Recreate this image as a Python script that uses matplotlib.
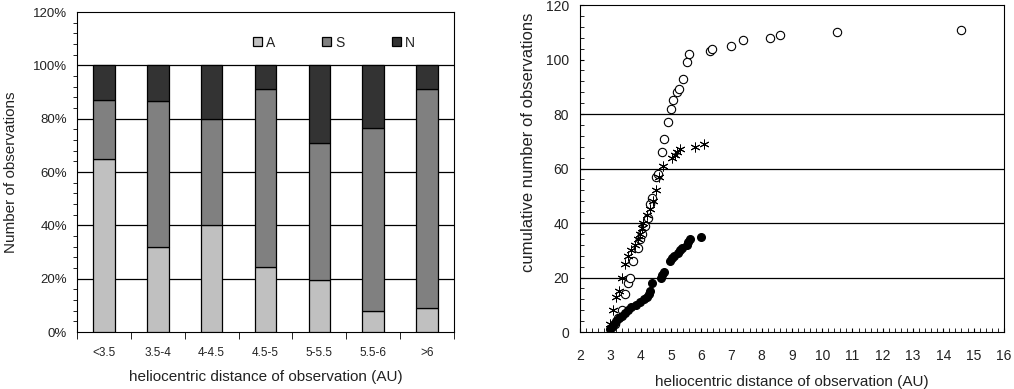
import matplotlib.pyplot as plt
import numpy as np
from matplotlib.ticker import MultipleLocator, FuncFormatter

plt.rcParams['font.family'] = ['Liberation Sans', 'DejaVu Sans']

# left panel: fraction of observations per distance bin (%)
bins = ["<3.5", "3.5-4", "4-4.5", "4.5-5", "5-5.5", "5.5-6", ">6"]
frac_A = [65, 32, 40, 24.5, 19.4, 8, 9]
frac_S = [22, 54.5, 40, 66.8, 51.6, 68.5, 82.3]
frac_N = [13, 13.5, 20, 8.7, 29, 23.5, 8.7]

# right panel: cumulative number of observations vs distance
open_x = [3.15, 3.26, 3.38, 3.49, 3.6, 3.65, 3.76, 3.93, 3.98, 4.04, 4.15, 4.26,
          4.31, 4.37, 4.52, 4.56, 4.7, 4.77, 4.92, 4.99, 5.08, 5.21, 5.26, 5.41,
          5.52, 5.6, 6.28, 6.37, 6.98, 7.39, 8.29, 8.6, 10.5, 14.6]
open_y = [3, 5, 8, 14, 18, 20, 26, 31, 34, 36, 39, 42,
          47, 49, 57, 58, 66, 71, 77, 82, 85, 88, 89, 93,
          99, 102, 103, 104, 105, 107, 108, 109, 110, 111]
star_x = [3.0, 3.1, 3.2, 3.28, 3.38, 3.5, 3.6, 3.7, 3.8, 3.92, 3.98, 4.04, 4.08,
          4.2, 4.3, 4.42, 4.52, 4.6, 4.75, 5.03, 5.14, 5.2, 5.3, 5.8, 6.1]
star_y = [3, 8, 13, 15, 20, 25, 28, 30, 32, 34, 36, 38, 40,
          43, 45, 48, 52, 57, 61, 64, 65, 66, 67, 68, 69]
fill_x = [2.99, 3.05, 3.12, 3.2, 3.3, 3.38, 3.5, 3.6, 3.7, 3.85, 3.98, 4.1, 4.2,
          4.28, 4.32, 4.38, 4.66, 4.7, 4.76, 4.97, 5.03, 5.1, 5.24, 5.3, 5.36,
          5.53, 5.57, 5.63, 5.99]
fill_y = [1, 2, 3, 4, 5, 6, 7, 8, 9, 10, 11, 12, 13,
          14, 15, 18, 20, 21, 22, 26, 27, 28, 29, 30, 31,
          32, 33, 34, 35]

txt = '#222222'
fig = plt.figure(figsize=(10.14, 3.89), dpi=100)

# ---- left: stacked percentage bars
ax1 = fig.add_axes([0.0759, 0.1465, 0.3718, 0.8226])
xpos = np.arange(len(bins))
a = np.array(frac_A)
s = np.array(frac_S)
n = np.array(frac_N)
w = 0.4
ax1.bar(xpos, a, w, color='#c0c0c0', edgecolor='black', lw=0.9, label='A', zorder=3)
ax1.bar(xpos, s, w, bottom=a, color='#808080', edgecolor='black', lw=0.9, label='S', zorder=3)
ax1.bar(xpos, n, w, bottom=a + s, color='#333333', edgecolor='black', lw=0.9, label='N', zorder=3)
for g in range(20, 101, 20):
    ax1.axhline(g, color='black', lw=0.9, zorder=1)
ax1.set_xlim(-0.5, len(bins) - 0.5)
ax1.set_ylim(0, 120)
ax1.set_xticks(xpos)
ax1.set_xticklabels(bins)
ax1.set_xticks(np.arange(-0.5, len(bins), 1), minor=True)
ax1.tick_params(axis='x', which='major', length=0, pad=11, labelsize=8.5, labelcolor=txt)
ax1.tick_params(axis='x', which='minor', length=5, direction='out')
ax1.yaxis.set_major_locator(MultipleLocator(20))
ax1.yaxis.set_minor_locator(MultipleLocator(4))
ax1.yaxis.set_major_formatter(FuncFormatter(lambda v, p: f"{v:.0f}%"))
ax1.tick_params(axis='y', which='major', length=0, pad=7, labelsize=9.5, labelcolor=txt)
ax1.tick_params(axis='y', which='minor', length=3, direction='out')
ax1.set_xlabel("heliocentric distance of observation (AU)", fontsize=11, color=txt, labelpad=8)
ax1.set_ylabel("Number of observations", fontsize=11, color=txt, labelpad=11)
ax1.legend(ncol=3, frameon=False, loc='upper right', bbox_to_anchor=(0.93, 0.965),
           handlelength=0.65, handleheight=0.65, handletextpad=0.3, columnspacing=3.4,
           fontsize=10, labelcolor=txt)

# ---- right: cumulative scatter
ax2 = fig.add_axes([0.572, 0.1465, 0.418, 0.8406])
for g in range(20, 81, 20):
    ax2.axhline(g, color='black', lw=0.9, zorder=1)
ax2.plot(open_x, open_y, 'o', mfc='white', mec='black', ms=6, mew=0.8, zorder=3)
ax2.plot(star_x, star_y, ls='none', marker=(6, 2, 0), color='black', ms=7, mew=0.7, zorder=4)
ax2.plot(fill_x, fill_y, 'o', color='black', ms=5.5, zorder=5)
ax2.set_xlim(2, 16)
ax2.set_ylim(0, 120)
ax2.xaxis.set_major_locator(MultipleLocator(1))
ax2.xaxis.set_minor_locator(MultipleLocator(0.2))
ax2.yaxis.set_major_locator(MultipleLocator(20))
ax2.yaxis.set_minor_locator(MultipleLocator(4))
ax2.tick_params(which='both', direction='in', length=3)
ax2.tick_params(which='major', labelsize=10, labelcolor=txt)
ax2.tick_params(axis='x', which='major', pad=12)
ax2.tick_params(axis='y', which='major', pad=8)
ax2.set_xlabel("heliocentric distance of observation (AU)", fontsize=11, color=txt, labelpad=9)
ax2.set_ylabel("cumulative number of observations", fontsize=12, color=txt)
ax2.yaxis.set_label_coords(-0.105, 0.58)

plt.savefig("out.png", dpi=100)
